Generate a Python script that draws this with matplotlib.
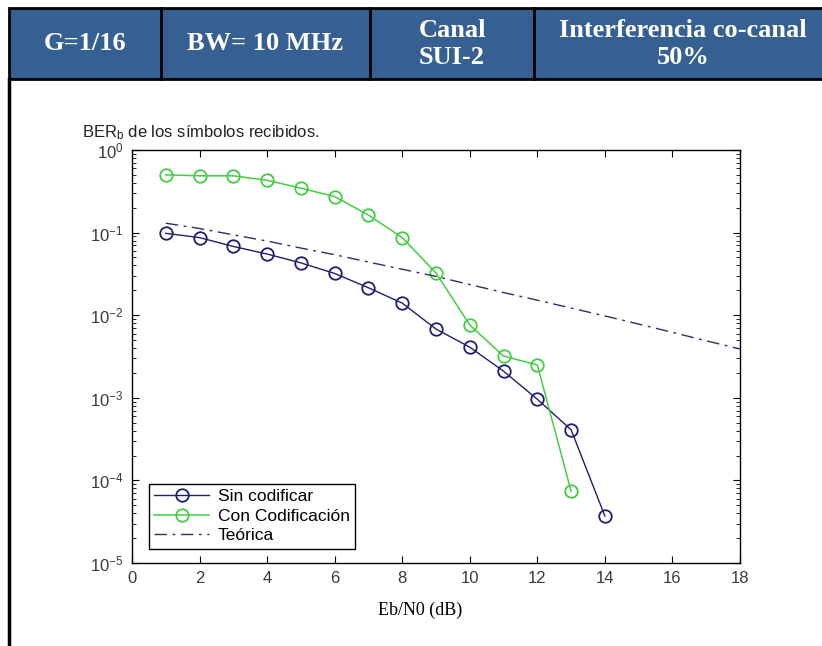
import matplotlib
matplotlib.use("Agg")
import matplotlib.pyplot as plt
from matplotlib.patches import Rectangle

# valores
ebn0 = [1, 2, 3, 4, 5, 6, 7, 8, 9, 10, 11, 12, 13, 14]
ber_sin = [0.098, 0.087, 0.068, 0.055, 0.043, 0.032, 0.0215, 0.014,
           0.0068, 0.0041, 0.0021, 0.00096, 0.00041, 0.000037]

ebn0_cod = [1, 2, 3, 4, 5, 6, 7, 8, 9, 10, 11, 12, 13]
ber_cod = [0.50, 0.487, 0.487, 0.43, 0.345, 0.273, 0.163, 0.087,
           0.0325, 0.0076, 0.0032, 0.0025, 0.000074]

ebn0_teo = [1, 2, 3, 4, 5, 6, 7, 8, 9, 10, 11, 12, 13, 14, 15, 16, 17, 18]
ber_teo = [0.13, 0.112, 0.094, 0.079, 0.065, 0.054, 0.044, 0.036, 0.0295,
           0.0235, 0.0188, 0.0152, 0.0122, 0.0098, 0.0078, 0.0062, 0.0049, 0.0039]

cabecera = ["G=1/16", "BW= 10 MHz", "Canal\nSUI-2", "Interferencia co-canal\n50%"]
bordes_x = [9, 161, 370, 534, 830]

W, H = 822, 646
fig = plt.figure(figsize=(W / 100, H / 100), dpi=100)

# fondo: tabla de la cabecera (coordenadas en pixeles)
bg = fig.add_axes([0, 0, 1, 1])
bg.set_xlim(0, W)
bg.set_ylim(H, 0)
bg.axis("off")
bg.add_patch(Rectangle((9, 8), W, 71, facecolor="#366092", edgecolor="black", lw=2))
for xb in bordes_x[1:-1]:
    bg.plot([xb, xb], [8, 79], color="black", lw=2)
bg.plot([9, 9], [79, H], color="black", lw=2.5)
for i, txt in enumerate(cabecera):
    xc = (bordes_x[i] + min(bordes_x[i + 1], 832)) / 2
    if i == 3:
        xc = 683
    bg.text(xc, 44, txt, ha="center", va="center", color="white",
            fontsize=19, fontweight="bold", family="Liberation Serif",
            linespacing=1.2)

# grafica estilo MATLAB
ax = fig.add_axes([132 / W, 1 - 563 / H, (740 - 132) / W, (563 - 150) / H])
ax.semilogy(ebn0, ber_sin, "-o", color="#1f1f70", lw=1, mfc="none", ms=9,
            mew=1.3, label="Sin codificar")
ax.semilogy(ebn0_cod, ber_cod, "-o", color="#44cc44", lw=1.1, mfc="none", ms=9,
            mew=1.3, label="Con Codificación")
ax.semilogy(ebn0_teo, ber_teo, color="#2e2e66", lw=1, dashes=(9, 4, 2, 4),
            label="Teórica")

ax.set_xlim(0, 18)
ax.set_ylim(1e-5, 1)
ax.set_xticks(range(0, 19, 2))
ax.tick_params(which="both", direction="in", top=True, right=True,
               labelsize=12, labelcolor="#3a3a3a", labelfontfamily="Liberation Sans")
ax.tick_params(which="major", length=5, pad=6)
ax.tick_params(which="minor", length=3)
for s in ax.spines.values():
    s.set_linewidth(1)

leg = ax.legend(loc="lower left", bbox_to_anchor=(0.013, 0.014), fancybox=False,
                edgecolor="black", framealpha=1, handlelength=3.2,
                prop={"family": "Liberation Sans", "size": 12.5},
                borderpad=0.3, labelspacing=0.25, handletextpad=0.5)
leg.get_frame().set_linewidth(1)

fig.text(82 / W, 1 - 133 / H, r"$\mathregular{BER_b}$ de los símbolos recibidos.",
         ha="left", va="center", fontsize=12, family="Liberation Sans",
         color="#222222")
fig.text(420 / W, 1 - 610 / H, "Eb/N0 (dB)", ha="center", va="center",
         fontsize=13, family="Liberation Serif")

fig.savefig("out.png", dpi=100)
